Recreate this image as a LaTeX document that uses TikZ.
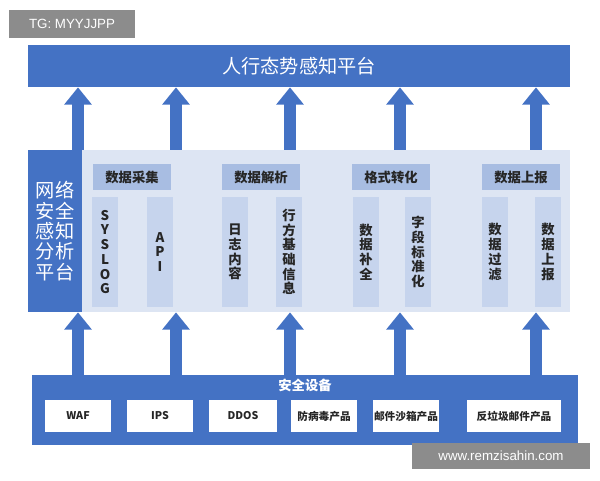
\documentclass[tikz,border=0pt]{standalone}
\usepackage{fontspec}
\setmainfont{Noto Sans CJK SC}
\setsansfont{Liberation Sans}
\usetikzlibrary{arrows.meta, positioning}
\definecolor{darkblue}{HTML}{4472C4}
\definecolor{paleblue}{HTML}{DDE5F3}
\definecolor{headblue}{HTML}{A8BDE2}
\definecolor{colblue}{HTML}{C6D4ED}

\begin{document}
\begin{tikzpicture}[
		x=0.75pt, y=-0.75pt,
		every node/.style={inner sep=0pt, outer sep=0pt},
		bar/.style={fill=darkblue, draw=none, text=white, font=\bfseries},
		head/.style={fill=headblue, minimum width=59pt, minimum height=20pt, font=\bfseries, text=black!85},
		column/.style={fill=colblue, minimum width=20pt, minimum height=83pt, font=\bfseries\linespread{0.92}\selectfont, text=black!85, align=center},
		device/.style={fill=white, minimum height=24pt, font=\footnotesize\bfseries, text=black!85},
		stamp/.style={fill=black!45, text=white, font=\sffamily, inner xsep=5pt},
		big arrow/.style={draw=darkblue, line width=9pt, -{Triangle[length=13pt, width=20pt]}}
		]
	\useasboundingbox (0,0) rectangle (600,480);

	% Top bar
	\node[bar, minimum width=406pt, minimum height=32pt, font=\Large] (top) at (299,66) {人行态势感知平台};

	% Middle panel
	\node[fill=paleblue, minimum width=366pt, minimum height=122pt] (panel) at (326,231) {};
	\node[bar, minimum width=41pt, minimum height=122pt, align=center, font=\Large\linespread{0.85}\selectfont] (side) at (55,231) {网络\\安全\\感知\\分析\\平台};

	% Headers
	\node[head] (h1) at (132,177) {数据采集};
	\node[head] (h2) at (261,177) {数据解析};
	\node[head] (h3) at (391,177) {格式转化};
	\node[head] (h4) at (521,177) {数据上报};

	% Columns
	\foreach \x/\t [count=\i] in {105/{S\\Y\\S\\L\\O\\G}, 160/{A\\P\\I}, 235/{日\\志\\内\\容}, 289/{行\\方\\基\\础\\信\\息},
		366/{数\\据\\补\\全}, 418/{字\\段\\标\\准\\化}, 495/{数\\据\\过\\滤}, 548/{数\\据\\上\\报}}{
		\node[column] (c\i) at (\x,252) {\t};
	}

	% Bottom bar
	\node[bar, minimum width=410pt, minimum height=53pt] (devices) at (305,410) {};
	\node[text=white, font=\bfseries] (devlabel) at (305,385) {安全设备};
	\foreach \x/\w/\t [count=\i] in {78/50/WAF, 160/50/IPS, 243/51/DDOS, 324/50/防病毒产品, 406/50/邮件沙箱产品, 514/71/反垃圾邮件产品}{
		\node[device, minimum width=\w pt] (d\i) at (\x,416) {\t};
	}

	% Arrows up
	\foreach \x in {78,176,290,400,536}{
		\draw[big arrow] (panel.north -| \x,0) -- (top.south -| \x,0);
		\draw[big arrow] (devices.north -| \x,0) -- (panel.south -| \x,0);
	}

	% Watermarks
	\node[stamp, minimum height=21pt, minimum width=94pt] (tg) at (72,24) {TG: MYYJJPP};
	\node[stamp, minimum height=20pt, minimum width=133pt] (www) at (501,456) {www.remzisahin.com};
\end{tikzpicture}
\end{document}
